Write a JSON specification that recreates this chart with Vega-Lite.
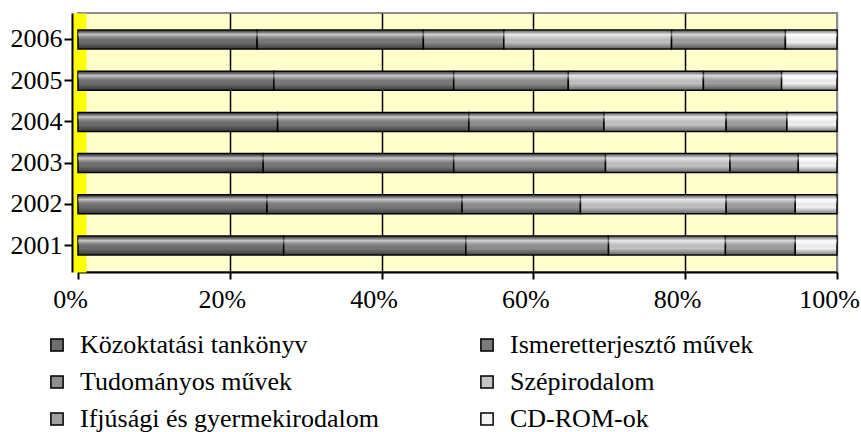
{
  "$schema": "https://vega.github.io/schema/vega-lite/v6.json",
  "width": 759,
  "height": 259,
  "autosize": "none",
  "padding": {"left": 78, "top": 13, "right": 24, "bottom": 160},
  "background": "white",
  "config": {
    "font": "Liberation Serif",
    "view": {"fill": "#ffffcc", "stroke": "#8c8c8c", "strokeWidth": 2}
  },
  "data": {
    "values": [
      {"year": "2006", "cat": "Közoktatási tankönyv", "o": 1, "value": 23.6},
      {"year": "2006", "cat": "Ismeretterjesztő művek", "o": 2, "value": 21.9},
      {"year": "2006", "cat": "Tudományos művek", "o": 3, "value": 10.6},
      {"year": "2006", "cat": "Szépirodalom", "o": 4, "value": 22.1},
      {"year": "2006", "cat": "Ifjúsági és gyermekirodalom", "o": 5, "value": 15.0},
      {"year": "2006", "cat": "CD-ROM-ok", "o": 6, "value": 6.8},
      {"year": "2005", "cat": "Közoktatási tankönyv", "o": 1, "value": 25.8},
      {"year": "2005", "cat": "Ismeretterjesztő művek", "o": 2, "value": 23.7},
      {"year": "2005", "cat": "Tudományos művek", "o": 3, "value": 15.1},
      {"year": "2005", "cat": "Szépirodalom", "o": 4, "value": 17.8},
      {"year": "2005", "cat": "Ifjúsági és gyermekirodalom", "o": 5, "value": 10.3},
      {"year": "2005", "cat": "CD-ROM-ok", "o": 6, "value": 7.3},
      {"year": "2004", "cat": "Közoktatási tankönyv", "o": 1, "value": 26.3},
      {"year": "2004", "cat": "Ismeretterjesztő művek", "o": 2, "value": 25.2},
      {"year": "2004", "cat": "Tudományos művek", "o": 3, "value": 17.8},
      {"year": "2004", "cat": "Szépirodalom", "o": 4, "value": 16.1},
      {"year": "2004", "cat": "Ifjúsági és gyermekirodalom", "o": 5, "value": 8.0},
      {"year": "2004", "cat": "CD-ROM-ok", "o": 6, "value": 6.6},
      {"year": "2003", "cat": "Közoktatási tankönyv", "o": 1, "value": 24.4},
      {"year": "2003", "cat": "Ismeretterjesztő művek", "o": 2, "value": 25.1},
      {"year": "2003", "cat": "Tudományos művek", "o": 3, "value": 20.0},
      {"year": "2003", "cat": "Szépirodalom", "o": 4, "value": 16.4},
      {"year": "2003", "cat": "Ifjúsági és gyermekirodalom", "o": 5, "value": 9.0},
      {"year": "2003", "cat": "CD-ROM-ok", "o": 6, "value": 5.1},
      {"year": "2002", "cat": "Közoktatási tankönyv", "o": 1, "value": 24.9},
      {"year": "2002", "cat": "Ismeretterjesztő művek", "o": 2, "value": 25.7},
      {"year": "2002", "cat": "Tudományos művek", "o": 3, "value": 15.6},
      {"year": "2002", "cat": "Szépirodalom", "o": 4, "value": 19.2},
      {"year": "2002", "cat": "Ifjúsági és gyermekirodalom", "o": 5, "value": 9.1},
      {"year": "2002", "cat": "CD-ROM-ok", "o": 6, "value": 5.5},
      {"year": "2001", "cat": "Közoktatási tankönyv", "o": 1, "value": 27.1},
      {"year": "2001", "cat": "Ismeretterjesztő művek", "o": 2, "value": 24.0},
      {"year": "2001", "cat": "Tudományos művek", "o": 3, "value": 18.8},
      {"year": "2001", "cat": "Szépirodalom", "o": 4, "value": 15.4},
      {"year": "2001", "cat": "Ifjúsági és gyermekirodalom", "o": 5, "value": 9.2},
      {"year": "2001", "cat": "CD-ROM-ok", "o": 6, "value": 5.5}
    ]
  },
  "layer": [
    {
      "mark": {"type": "bar", "size": 19, "stroke": "black", "strokeWidth": 1.5},
      "encoding": {
        "y": {
          "field": "year", "type": "ordinal", "sort": "descending",
          "scale": {"paddingInner": 0.54, "paddingOuter": 0.41, "align": 0.5},
          "axis": {"orient": "left", "offset": -1, "domainColor": "#ffff00", "domainWidth": 14, "ticks": false, "labels": false, "title": null, "grid": false}
        },
        "x": {
          "field": "value", "type": "quantitative", "stack": "normalize",
          "scale": {"domain": [0, 1]},
          "axis": {
            "title": null, "values": [0, 0.2, 0.4, 0.6, 0.8, 1], "format": ".0%",
            "labelFontSize": 26, "labelColor": "black", "labelFont": "Liberation Serif",
            "labelPadding": 7, "labelFlush": false, "labelOffset": -8,
            "domainColor": "black", "domainWidth": 2,
            "tickColor": "black", "tickSize": 7, "tickWidth": 2,
            "grid": true, "gridWidth": 1.5,
            "gridColor": {"condition": {"test": "datum.value == 1 || datum.value == 0", "value": "#8c8c8c"}, "value": "black"}
          }
        },
        "color": {
          "field": "cat", "type": "nominal",
          "scale": {
            "domain": ["Közoktatási tankönyv", "Ismeretterjesztő művek", "Tudományos művek", "Szépirodalom", "Ifjúsági és gyermekirodalom", "CD-ROM-ok"],
            "range": ["#6e6e6e", "#7a7a7a", "#8f8f8f", "#c4c4c4", "#a0a0a0", "#f4f4f4"]
          },
          "legend": {
            "orient": "none", "legendX": -34, "legendY": 319,
            "columns": 2, "direction": "horizontal", "columnPadding": 95, "rowPadding": 11,
            "title": null, "labelFontSize": 26, "labelColor": "black", "labelFont": "Liberation Serif",
            "labelLimit": 500, "labelOffset": 10,
            "symbolType": "square", "symbolSize": 150, "symbolStrokeColor": "black", "symbolStrokeWidth": 1.5, "symbolOpacity": 1
          }
        },
        "order": {"field": "o", "type": "quantitative"}
      }
    },
    {
      "mark": {
        "type": "bar", "size": 18,
        "fill": {
          "gradient": "linear", "x1": 0, "y1": 0, "x2": 0, "y2": 1,
          "stops": [
            {"offset": 0, "color": "rgba(0,0,0,0.45)"},
            {"offset": 0.22, "color": "rgba(255,255,255,0.6)"},
            {"offset": 0.38, "color": "rgba(255,255,255,0.2)"},
            {"offset": 0.65, "color": "rgba(0,0,0,0)"},
            {"offset": 1, "color": "rgba(0,0,0,0.45)"}
          ]
        }
      },
      "encoding": {
        "y": {
          "field": "year", "type": "ordinal", "sort": "descending",
          "axis": {
            "orient": "left", "offset": 6, "title": null,
            "domainColor": "black", "domainWidth": 2,
            "tickColor": "black", "tickSize": 8, "tickWidth": 2,
            "labelFontSize": 26, "labelColor": "black", "labelPadding": 2, "labelFont": "Liberation Serif"
          }
        },
        "x": {"field": "value", "type": "quantitative", "stack": "normalize", "axis": null},
        "order": {"field": "o", "type": "quantitative"}
      }
    }
  ],
  "resolve": {"axis": {"y": "independent", "x": "independent"}}
}
